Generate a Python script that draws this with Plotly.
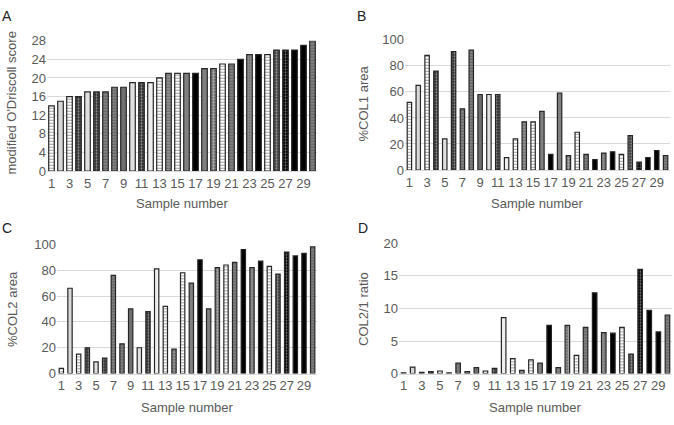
import plotly.graph_objects as go

samples = list(range(1, 31))
score_a = [14, 15, 16, 16, 17, 17, 17, 18, 18, 19, 19, 19, 20, 21, 21,
           21, 21, 22, 22, 23, 23, 24, 25, 25, 25, 26, 26, 26, 27, 28]
col1_b = [52, 65, 88, 76, 24, 91, 47, 92, 58, 58, 58, 9.5, 24, 37, 37,
          45, 12, 59, 11, 29, 12, 8, 13, 14, 12, 26.5, 6, 9.5, 15, 11]
col2_c = [4, 66, 15, 20, 9, 12, 76, 23, 50, 20, 48, 81, 52, 19, 78,
          70, 88, 50, 82, 84, 86, 96, 82, 87, 83, 77, 94, 91, 93, 98]
ratio_d = [0.1, 1.0, 0.2, 0.3, 0.4, 0.1, 1.6, 0.3, 0.9, 0.4, 0.8, 8.6, 2.3, 0.5, 2.1,
           1.6, 7.4, 0.9, 7.4, 2.8, 7.1, 12.4, 6.3, 6.2, 7.1, 3.0, 16.0, 9.7, 6.4, 9.0]
x_ticks = list(range(1, 30, 2))

# per-sample bar styles (fill, pattern shape, pattern colour)
fills = ["white", "#d8d8d8", "white", "#303030", "#e0e0e0", "#303030", "#808080", "#808080",
         "#707070", "#e0e0e0", "#303030", "#eeeeee", "white", "#909090", "white",
         "#808080", "black", "#808080", "#707070", "white", "#808080", "black",
         "#909090", "black", "white", "#404040", "black", "black", "black", "#808080"]
shapes = ["-", "", "-", ".", "", ".", "-", "-", "", "", ".", "", "-", "-", "-",
          "", "", "", "+", "-", "-", "", ".", "", "-", ".", ".", "", "", "-"]
pfg = ["#707070", "#808080", "#707070", "#d0d0d0", "#808080", "#d0d0d0", "#303030", "#303030",
       "#404040", "#808080", "#d0d0d0", "#808080", "#404040", "#303030", "#404040",
       "#404040", "white", "#404040", "#303030", "#404040", "#303030", "white",
       "#303030", "white", "#404040", "#d0d0d0", "#808080", "white", "white", "#303030"]

GREY = "#595959"
FONT = "Liberation Sans, Arial, sans-serif"

fig = go.Figure()

panels = [
    (score_a, "x", "y", 0.62),
    (col1_b, "x2", "y2", 0.5),
    (col2_c, "x3", "y3", 0.5),
    (ratio_d, "x4", "y4", 0.5),
]
for vals, xa, ya, w in panels:
    fig.add_trace(go.Bar(
        x=samples, y=vals, xaxis=xa, yaxis=ya, width=w,
        marker=dict(
            color=fills,
            line=dict(color="#262626", width=1.2),
            pattern=dict(shape=shapes, fgcolor=pfg,
                         size=3, solidity=0.35, fillmode="overlay"),
        ),
        showlegend=False, hoverinfo="skip",
    ))

W, H = 674, 425

def dom(a, b, total):
    return [a / total, b / total]

axis_common = dict(showgrid=False, zeroline=False, showline=True, linecolor="#d9d9d9",
                   ticks="", tickvals=x_ticks, range=[0.5, 30.5],
                   tickfont=dict(color=GREY, size=13, family=FONT))
ycommon = dict(showgrid=True, gridcolor="#d9d9d9", gridwidth=1, zeroline=False,
               showline=False, ticks="", tickfont=dict(color=GREY, size=13, family=FONT))

fig.update_layout(
    width=W, height=H, margin=dict(l=0, r=0, t=0, b=0),
    plot_bgcolor="white", paper_bgcolor="white", bargap=0.4,
    font=dict(family=FONT, color=GREY),
    xaxis=dict(domain=dom(47, 317, W), anchor="y", **axis_common),
    yaxis=dict(domain=[(H - 170) / H, (H - 35) / H], range=[0, 28], dtick=4, anchor="x", **ycommon),
    xaxis2=dict(domain=dom(405, 670, W), anchor="y2", **axis_common),
    yaxis2=dict(domain=[(H - 169) / H, (H - 34) / H], range=[0, 100], dtick=20, anchor="x2", **ycommon),
    xaxis3=dict(domain=dom(57, 317, W), anchor="y3", **axis_common),
    yaxis3=dict(domain=[(H - 380) / H, (H - 246) / H], range=[0, 100], dtick=20, anchor="x3", **ycommon),
    xaxis4=dict(domain=dom(399, 672, W), anchor="y4", **axis_common),
    yaxis4=dict(domain=[(H - 380) / H, (H - 245) / H], range=[0, 20], dtick=5, anchor="x4", **ycommon),
)

def ann(text, x, y, size=13, angle=0, color=GREY):
    fig.add_annotation(text=text, x=x / W, y=1 - y / H, xref="paper", yref="paper",
                       showarrow=False, textangle=angle, xanchor="center", yanchor="middle",
                       font=dict(size=size, color=color, family=FONT))

# panel letters
ann("A", 7, 9, 14, color="#222222")
ann("B", 361, 9, 14, color="#222222")
ann("C", 7, 229, 14, color="#222222")
ann("D", 363, 229, 14, color="#222222")

# x titles
ann("Sample number", 182, 204)
ann("Sample number", 537, 204)
ann("Sample number", 187, 415)
ann("Sample number", 535, 415)

# y titles
ann("modified O'Driscoll score", 11, 100, angle=-90)
ann("%COL1 area", 363, 100, angle=-90)
ann("%COL2 area", 13, 313, angle=-90)
ann("COL2/1 ratio", 364, 313, angle=-90)

fig.write_html("out.html", config={"displayModeBar": False, "staticPlot": True},
               post_script="document.body.style.margin='0px';document.body.style.overflow='hidden';")
